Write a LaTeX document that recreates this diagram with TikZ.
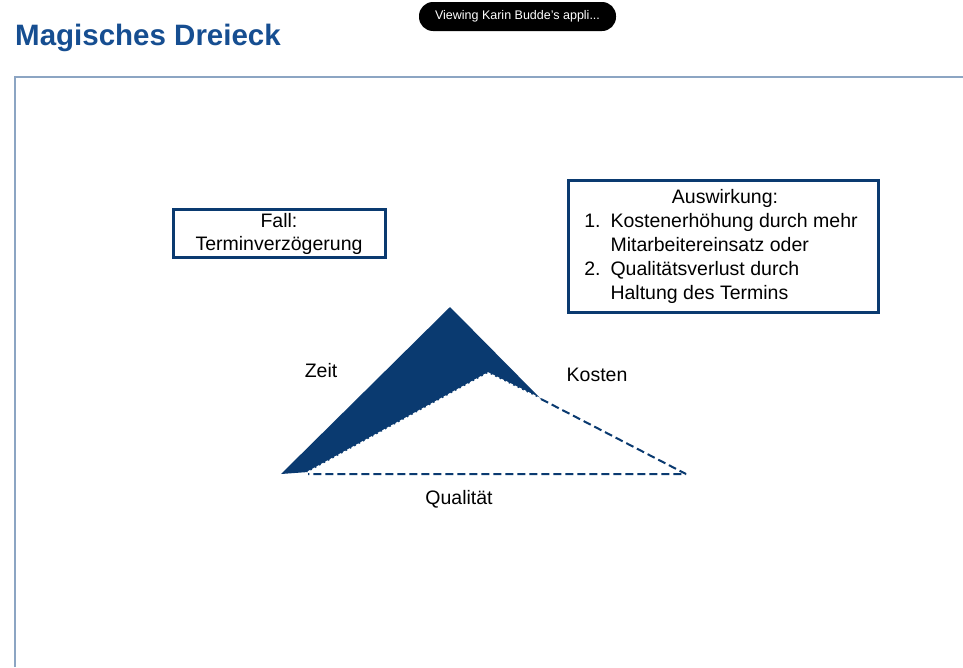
\documentclass[tikz,border=0pt]{standalone}
\usepackage{fontspec}
\setmainfont{Liberation Sans}
\begin{document}
\definecolor{navy}{RGB}{10,58,112}
\definecolor{titleblue}{RGB}{22,78,145}
\definecolor{framegray}{RGB}{140,165,195}
\begin{tikzpicture}[x=1pt,y=-1pt,
  infobox/.style={draw=navy,line width=3pt,fill=white,inner sep=0pt},
  bodytext/.style={font=\fontsize{19.5}{24}\selectfont,text=black,inner sep=0pt},
  edgedash/.style={draw=navy,line width=2pt,dash pattern=on 8pt off 4pt,line join=bevel}]
\useasboundingbox (0,0) rectangle (963,667);
\fill[white] (0,0) rectangle (963,667);

% slide title and content frame
\node[anchor=base west,inner sep=0pt,text=titleblue,font=\fontsize{29.5}{33}\selectfont\bfseries] (title) at (15,45) {Magisches Dreieck};
\draw[framegray,line width=2pt] (15,667) -- (15,77) -- (963,77);

% screen-share banner
\node[fill=black,rounded corners=14pt,minimum width=197pt,minimum height=29pt,inner sep=0pt,
      text=white,font=\fontsize{12.5}{14}\selectfont] (banner) at (517.5,16.5) {Viewing Karin Budde's appli...};

% information boxes
\node[infobox,minimum width=212pt,minimum height=48pt] (fall) at (279,233) {};
\node[bodytext,align=center,font=\fontsize{19.5}{23}\selectfont] (falltext) at (279,233.5) {Fall:\\Terminverzögerung};

\node[infobox,minimum width=310pt,minimum height=132pt] (aus) at (723,246) {};
\node[bodytext] (austext) at (721,246.5) {%
  \begin{tabular}{@{}l@{\hspace{10pt}}l@{}}
  \multicolumn{2}{c}{\hspace{8pt}Auswirkung:}\\
  1. & Kostenerhöhung durch mehr\\
     & Mitarbeitereinsatz oder\\
  2. & Qualitätsverlust durch\\
     & Haltung des Termins
  \end{tabular}};

% triangle
\coordinate (bl) at (281,474);
\coordinate (apex) at (450,307);
\coordinate (kr) at (541,399);
\coordinate (inner) at (488,373);
\coordinate (ib) at (308,472);
\coordinate (br) at (686,474);
\coordinate (bb) at (308,474);
\fill[navy] (bl) -- (apex) -- (kr) -- (inner) -- (ib) -- cycle;
\draw[white,line width=1.5pt,dash pattern=on 3pt off 2pt] (ib) -- (inner) -- (kr);
\draw[edgedash] (kr) -- (br) -- (bb);

% labels of the sides
\node[bodytext] (zeit) at (321,371) {Zeit};
\node[bodytext] (kosten) at (597,375) {Kosten};
\node[bodytext] (qual) at (459,499) {Qualität};
\end{tikzpicture}
\end{document}
